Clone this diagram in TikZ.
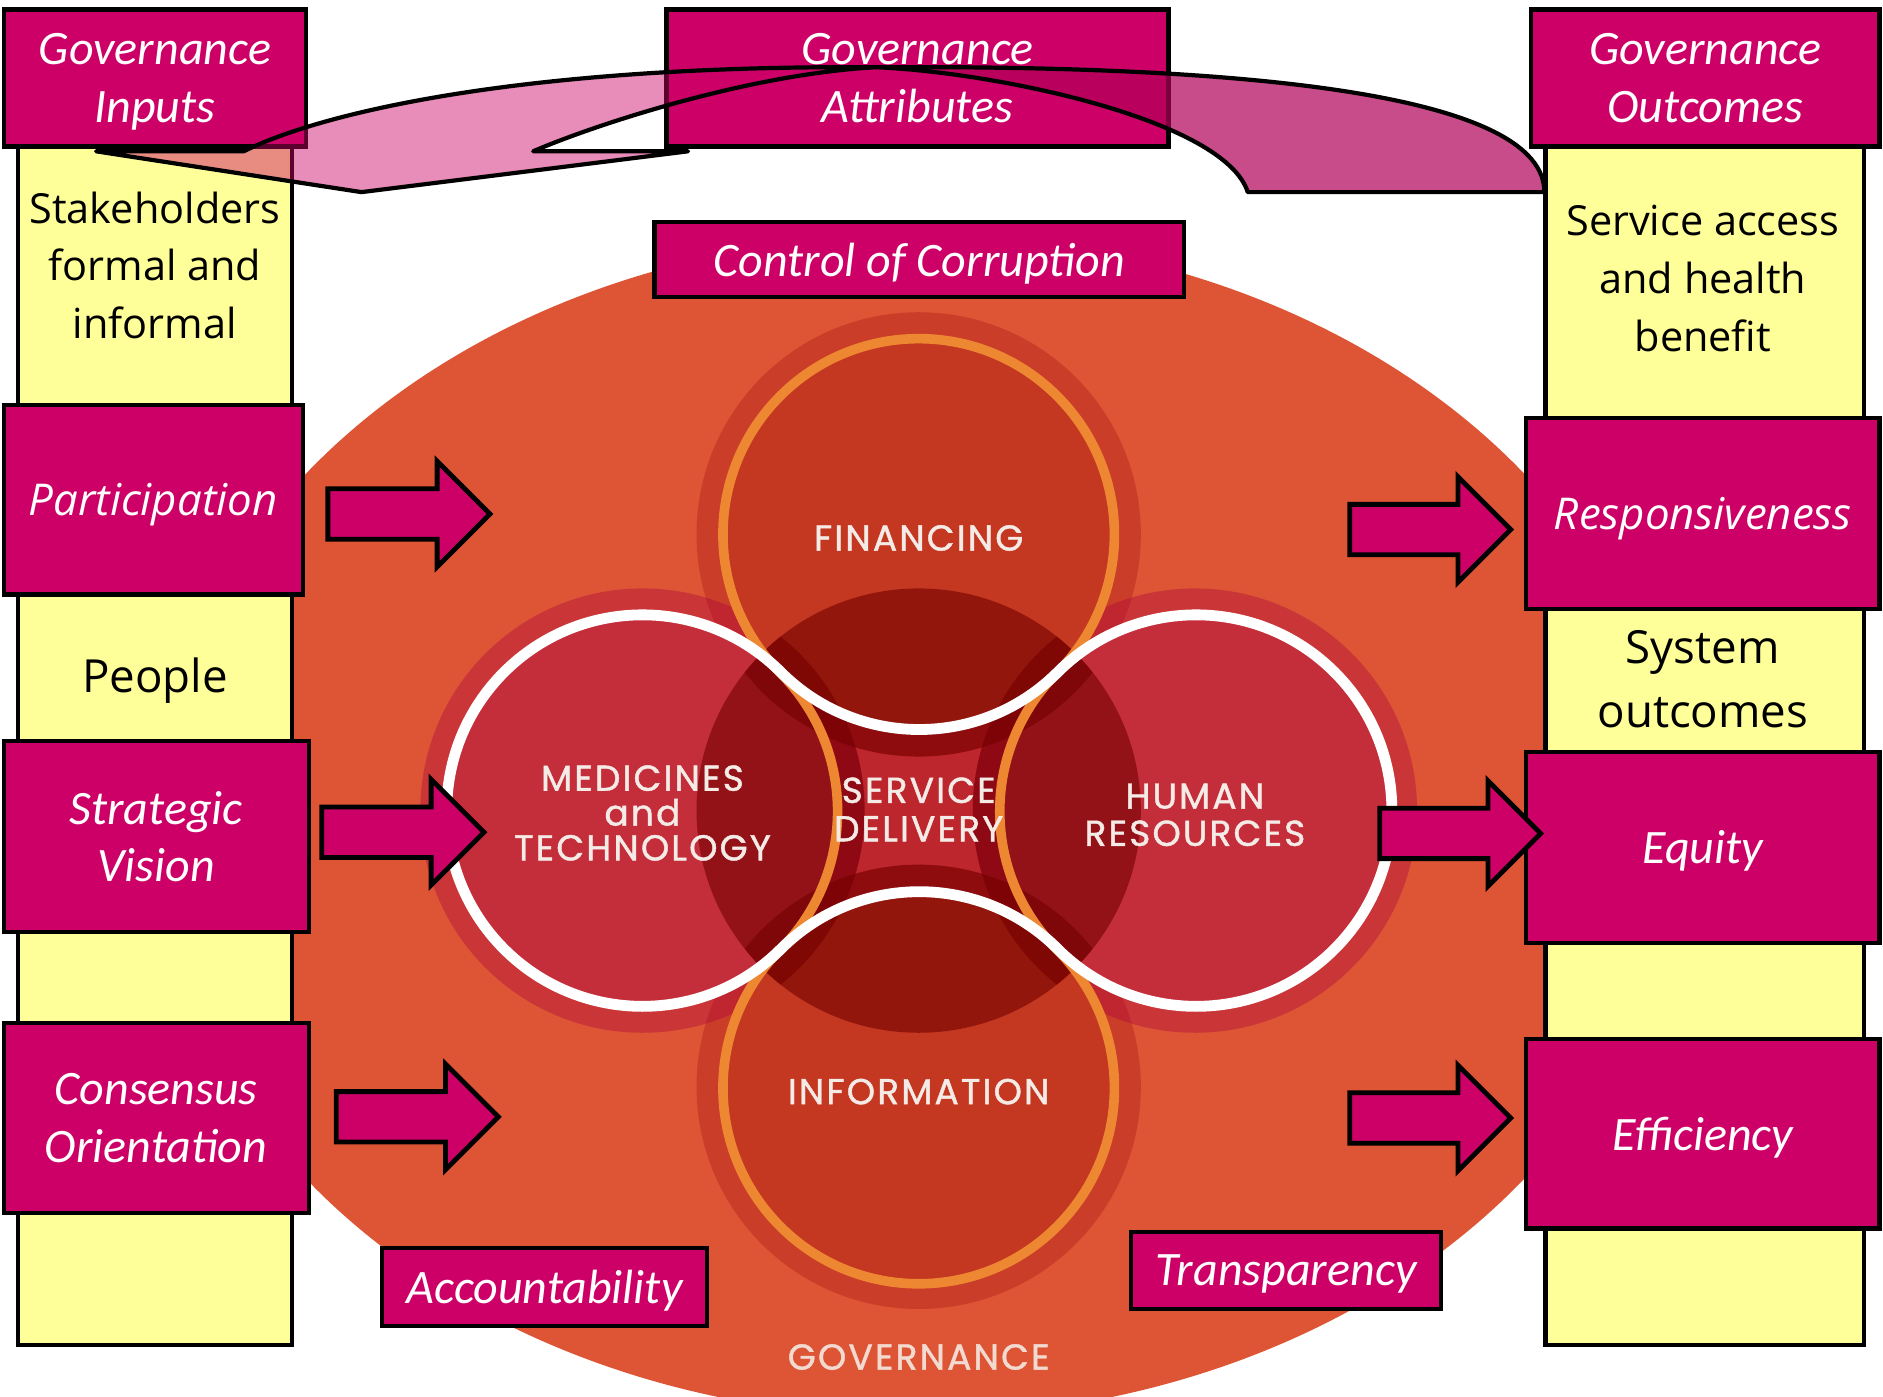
\documentclass[tikz,border=0pt]{standalone}
\usepackage{fontspec}
\setmainfont{Carlito}
\newfontfamily\osans{Open Sans}
\newfontfamily\circfont[FakeBold=1.2,LetterSpace=6]{Poppins}
\usetikzlibrary{calc}

\definecolor{mag}{RGB}{204,0,102}
\definecolor{yel}{RGB}{255,255,153}
\definecolor{bgor}{RGB}{221,85,53}
\definecolor{fring}{RGB}{175,25,25}
\definecolor{mring}{RGB}{175,5,60}
\definecolor{finner}{RGB}{196,56,34}
\definecolor{minner}{RGB}{196,46,58}
\definecolor{spatch}{RGB}{190,38,45}
\definecolor{darkov}{RGB}{115,0,0}
\definecolor{oline}{RGB}{238,135,50}
\definecolor{ctext}{RGB}{244,234,230}
\definecolor{gtext}{RGB}{242,218,208}
\definecolor{lightarr}{RGB}{204,0,102}
\definecolor{darkarr}{RGB}{177,0,88}

\tikzset{
  mbox/.style={draw=black, line width=3.5pt, fill=mag, text=white, align=center,
    inner sep=0pt, text depth=0pt, font=\fontsize{40}{48}\selectfont\itshape},
  obox/.style={mbox, font=\osans\fontsize{36.5}{44}\selectfont\itshape},
  ycol/.style={draw=black, line width=3.5pt, fill=yel, inner sep=0pt},
  ytext/.style={align=center, text=black, inner sep=0pt, font=\osans\fontsize{34.5}{48}\selectfont},
  ytextbig/.style={ytext, font=\osans\fontsize{38}{53}\selectfont},
  ctxt/.style={align=center, text=ctext, inner sep=0pt, font=\circfont\fontsize{30}{29}\selectfont},
  blockarr/.style={draw=black, line width=4pt, fill=mag, line join=miter},
  bendarr/.style={draw=black, line width=3.5pt, line join=round},
}

\newcommand\govarrow[3]{\draw[blockarr] (#1,#3+21) -- (#2-44,#3+21) -- (#2-44,#3+44) -- (#2,#3) -- (#2-44,#3-44) -- (#2-44,#3-21) -- (#1,#3-21) -- cycle;}

\begin{document}
\begin{tikzpicture}[x=1pt,y=1pt]
\useasboundingbox (0,0) rectangle (1568,1163);
\clip (0,0) rectangle (1568,1163);
\fill[white] (0,0) rectangle (1568,1163);

% background governance ellipse
\fill[bgor] (762,475) ellipse [x radius=632, y radius=492];

% circle centres
\coordinate (cF) at (765,718);
\coordinate (cI) at (765,258);
\coordinate (cM) at (535,488);
\coordinate (cH) at (995,488);
\coordinate (cS) at (765,488);

\fill[spatch] (cS) circle[radius=185];
\fill[fring, fill opacity=0.4] (cF) circle[radius=185];
\fill[fring, fill opacity=0.4] (cI) circle[radius=185];
\fill[mring, fill opacity=0.4] (cM) circle[radius=185];
\fill[mring, fill opacity=0.4] (cH) circle[radius=185];
\fill[finner] (cF) circle[radius=163];
\fill[finner] (cI) circle[radius=163];
\fill[minner] (cM) circle[radius=163];
\fill[minner] (cH) circle[radius=163];
\begin{scope}
  \clip (cS) circle[radius=185];
  \foreach \c in {cF,cI,cM,cH}
    \fill[darkov, fill opacity=0.6] (\c) circle[radius=185];
\end{scope}

% interlaced rings
\draw[oline, line width=8pt] ($(cF)+(225:163)$)
  arc[start angle=225, end angle=-45, radius=163]
  arc[start angle=135, end angle=225, radius=163]
  arc[start angle=45, end angle=-225, radius=163]
  arc[start angle=-45, end angle=45, radius=163] -- cycle;
\draw[white, line width=9pt] ($(cM)+(45:163)$)
  arc[start angle=45, end angle=315, radius=163]
  arc[start angle=135, end angle=45, radius=163]
  arc[start angle=-135, end angle=135, radius=163]
  arc[start angle=-45, end angle=-135, radius=163] -- cycle;

% circle labels
\node[ctxt] (fin) at (765,715) {FINANCING};
\node[ctxt] (med) at (535,486) {MEDICINES\\and\\TECHNOLOGY};
\node[ctxt, font=\circfont\fontsize{30}{32}\selectfont] (sd) at (765,489) {SERVICE\\DELIVERY};
\node[ctxt, font=\circfont\fontsize{30}{31}\selectfont] (hr) at (995,484.5) {HUMAN\\RESOURCES};
\node[ctxt] (info) at (765,254) {INFORMATION};
\node[ctxt, text=gtext] (gov) at (765,33) {GOVERNANCE};

% yellow columns
\node[ycol, minimum width=228pt, minimum height=998pt] (lcol) at (129,542) {};
\node[ycol, minimum width=265pt, minimum height=998pt] (rcol) at (1419.5,542) {};
\node[ytext] (stake) at (129,942) {Stakeholders\\formal and\\informal};
\node[ytextbig, text depth=0pt] (people) at (129,601) {People};
\node[ytext] (serv) at (1418,931) {Service access\\and health\\benefit};
\node[ytextbig] (sysout) at (1418,597.5) {System\\outcomes};

% magenta boxes
\node[mbox, minimum width=252pt, minimum height=114pt] (gin) at (129,1098) {Governance\\Inputs};
\node[mbox, minimum width=418pt, minimum height=114pt] (gatt) at (764,1098) {Governance\\Attributes};
\node[mbox, minimum width=290pt, minimum height=114pt] (gout) at (1420,1098) {Governance\\Outcomes};
\node[obox, minimum width=249pt, minimum height=158pt] (part) at (127.5,747) {Participation};
\node[mbox, minimum width=254pt, minimum height=159pt] (strat) at (130,466.5) {Strategic\\Vision};
\node[mbox, minimum width=254pt, minimum height=158pt] (cons) at (130,232) {Consensus\\Orientation};
\node[obox, minimum width=294pt, minimum height=159pt] (resp) at (1418,735.5) {Responsiveness};
\node[mbox, minimum width=294pt, minimum height=159pt] (equity) at (1418,457.5) {Equity};
\node[mbox, minimum width=294pt, minimum height=158pt] (eff) at (1418,219) {Efficiency};
\node[mbox, minimum width=441pt, minimum height=62pt] (coc) at (765.5,947) {Control of Corruption};
\node[mbox, minimum width=271pt, minimum height=65pt] (acc) at (453.5,91.5) {Accountability};
\node[mbox, minimum width=258pt, minimum height=64pt] (trans) at (1071,105) {Transparency};

% block arrows
\govarrow{273}{408}{735}
\govarrow{268}{403}{470}
\govarrow{280}{415}{233}
\govarrow{1124}{1258}{722}
\govarrow{1149}{1283}{469}
\govarrow{1124}{1258}{232}

% curved arrow
\draw[bendarr, fill=lightarr, fill opacity=0.45] (80,1037) -- (203,1037)
  .. controls (265,1068) and (430,1109) .. (729,1107)
  .. controls (620,1101) and (490,1057) .. (444,1037)
  -- (573,1037) -- (301,1003) -- cycle;
\draw[bendarr, fill=darkarr, fill opacity=0.7] (729,1107)
  .. controls (1050,1109) and (1286,1083) .. (1286,1003)
  -- (1039,1003)
  .. controls (1020,1063) and (830,1103) .. (729,1107) -- cycle;
\end{tikzpicture}
\end{document}
